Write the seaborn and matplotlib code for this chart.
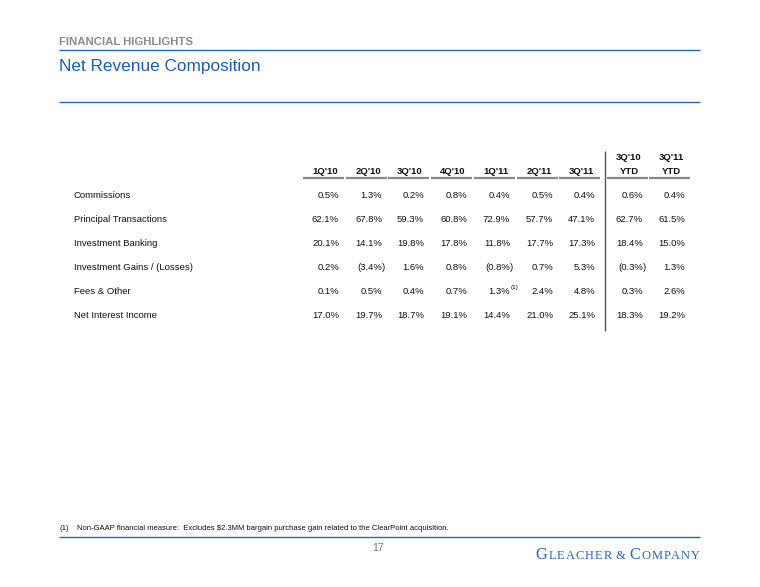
import matplotlib
matplotlib.use("Agg")
import matplotlib.pyplot as plt
import seaborn as sns
import pandas as pd
from matplotlib.offsetbox import TextArea, HPacker, AnnotationBbox

# ---- data ----
categories = ["Commissions", "Principal Transactions", "Investment Banking",
              "Investment Gains / (Losses)", "Fees & Other", "Net Interest Income"]
periods = ["1Q'10", "2Q'10", "3Q'10", "4Q'10", "1Q'11", "2Q'11", "3Q'11",
           "3Q'10\nYTD", "3Q'11\nYTD"]
commissions = [0.5, 1.3, 0.2, 0.8, 0.4, 0.5, 0.4, 0.6, 0.4]
principal_transactions = [62.1, 67.8, 59.3, 60.8, 72.9, 57.7, 47.1, 62.7, 61.5]
investment_banking = [20.1, 14.1, 19.8, 17.8, 11.8, 17.7, 17.3, 18.4, 15.0]
investment_gains = [0.2, -3.4, 1.6, 0.8, -0.8, 0.7, 5.3, -0.3, 1.3]
fees_other = [0.1, 0.5, 0.4, 0.7, 1.3, 2.4, 4.8, 0.3, 2.6]
net_interest_income = [17.0, 19.7, 18.7, 19.1, 14.4, 21.0, 25.1, 18.3, 19.2]
footnote_cell = ("Fees & Other", "1Q'11")

df = pd.DataFrame([commissions, principal_transactions, investment_banking,
                   investment_gains, fees_other, net_interest_income],
                  index=categories, columns=periods)

# ---- layout ----
sns.set_theme(style="white")
plt.rcParams["font.family"] = ["Liberation Sans", "DejaVu Sans"]

W, H = 760, 587
fig = plt.figure(figsize=(W / 100, H / 100), dpi=100)
ax = fig.add_axes([0, 0, 1, 1])
ax.set_xlim(0, W)
ax.set_ylim(H, 0)
ax.axis("off")

BLUE = "#2a66b3"
TITLE_BLUE = "#1f5cab"
GRAY = "#8c8c8c"
TXT = "#111111"

# header area
ax.text(59, 42, "FINANCIAL HIGHLIGHTS", fontsize=8.2, fontweight="bold",
        color=GRAY, va="center", ha="left")
ax.plot([59, 700], [50, 50], color=BLUE, lw=1.0, solid_capstyle="butt")
ax.text(59, 66, "Net Revenue Composition", fontsize=12.4, color=TITLE_BLUE,
        va="center", ha="left")
ax.plot([59, 700], [102, 102], color=BLUE, lw=1.0, solid_capstyle="butt")

# table
col_right = [339, 382, 424, 467, 510, 553, 595, 643, 685]
row_y0, row_dy = 196, 24
label_x = 74
fs = 6.8

for j, p in enumerate(periods):
    r = col_right[j]
    lines = p.split("\n")
    if len(lines) == 2:
        ax.text(r - 14, 158, lines[0], fontsize=fs, fontweight="bold", color=TXT,
                ha="center", va="center")
        ax.text(r - 14, 171, lines[1], fontsize=fs, fontweight="bold", color=TXT,
                ha="center", va="center")
    else:
        ax.text(r - 14, 171, lines[0], fontsize=fs, fontweight="bold", color=TXT,
                ha="center", va="center")
    ax.plot([r - 36, r + 5], [177.5, 177.5], color="#8a8a8a", lw=1.6,
            solid_capstyle="butt")

for i, cat in enumerate(df.index):
    y = row_y0 + i * row_dy
    ax.text(label_x, y, cat, fontsize=fs, color=TXT, ha="left", va="center")
    for j, p in enumerate(df.columns):
        v = df.loc[cat, p]
        r = col_right[j]
        if v < 0:
            ax.text(r, y, f"({abs(v):.1f}%", fontsize=fs, color=TXT,
                    ha="right", va="center")
            ax.text(r, y, ")", fontsize=fs, color=TXT, ha="left", va="center")
        else:
            ax.text(r, y, f"{v:.1f}%", fontsize=fs, color=TXT,
                    ha="right", va="center")
        if (cat, p) == footnote_cell:
            ax.text(r + 1, y - 5, "(1)", fontsize=4.6, color=TXT,
                    ha="left", va="center")

# vertical separator
ax.plot([605, 605], [151, 331], color="#555555", lw=1.0, solid_capstyle="butt")

# footer
ax.text(59, 529, "(1)", fontsize=5.6, color=TXT, ha="left", va="center")
ax.text(77, 529, "Non-GAAP financial measure:  Excludes $2.3MM bargain purchase "
        "gain related to the ClearPoint acquisition.", fontsize=5.5, color=TXT,
        ha="left", va="center")
ax.plot([59, 700], [536.5, 536.5], color=BLUE, lw=1.0, solid_capstyle="butt")
ax.text(378, 548, "17", fontsize=7.6, color="#777777", ha="center", va="center")

serif = ["Liberation Serif", "DejaVu Serif"]
big = dict(fontsize=11.8, color=BLUE, family=serif)
small = dict(fontsize=9.0, color=BLUE, family=serif)
parts = [("G", big)] + [(c, small) for c in "LEACHER"] + [(" & ", small), ("C", big)] \
    + [(c, small) for c in "OMPANY"]
boxes = [TextArea(t, textprops=pr) for t, pr in parts]
pack = HPacker(children=boxes, align="baseline", pad=0, sep=0.7)
ab = AnnotationBbox(pack, (700, 555), xycoords="data", box_alignment=(1, 0.5),
                    frameon=False, pad=0)
ax.add_artist(ab)

fig.savefig("out.png", dpi=100, facecolor="white")
